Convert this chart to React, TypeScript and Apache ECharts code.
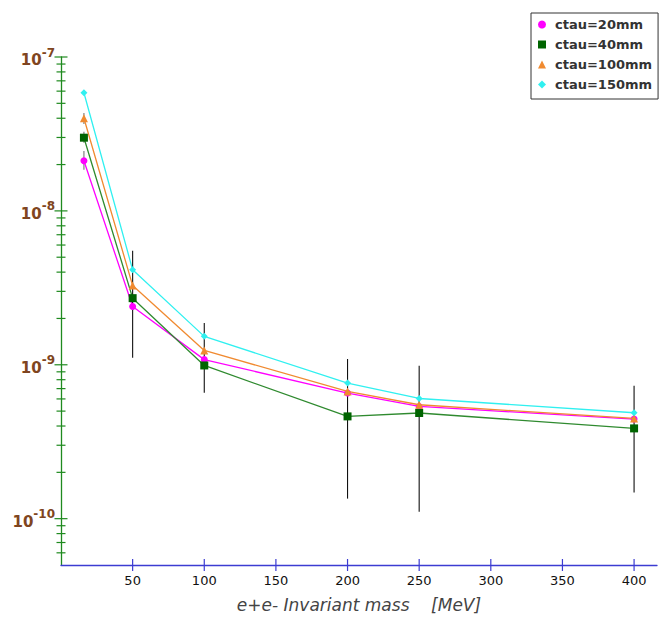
import React, { useEffect, useRef } from "react";
import * as echarts from "echarts";

// ---- data ----
const seriesNames = ["ctau=20mm", "ctau=40mm", "ctau=100mm", "ctau=150mm"];
const masses = [16, 50, 100, 200, 250, 400];
const ctau20 = [2.12e-8, 2.39e-9, 1.08e-9, 6.55e-10, 5.36e-10, 4.44e-10];
const ctau40 = [2.99e-8, 2.71e-9, 9.9e-10, 4.62e-10, 4.86e-10, 3.86e-10];
const ctau100 = [4.0e-8, 3.27e-9, 1.24e-9, 6.71e-10, 5.5e-10, 4.48e-10];
const ctau150 = [5.86e-8, 4.14e-9, 1.53e-9, 7.6e-10, 6.04e-10, 4.88e-10];

// black error bars (one per mass point)
const errMass = [50, 100, 200, 250, 400];
const errLow = [1.11e-9, 6.58e-10, 1.35e-10, 1.11e-10, 1.48e-10];
const errHigh = [5.5e-9, 1.87e-9, 1.09e-9, 9.86e-10, 7.31e-10];
// small grey error bars at the first mass point
const smallErrMass = [16, 16, 16];
const smallErrLow = [1.85e-8, 2.77e-8, 3.67e-8];
const smallErrHigh = [2.45e-8, 3.27e-8, 4.33e-8];

// axes
const X_MIN = 0;
const X_MAX = 416;
const Y_MIN = 5e-11;
const Y_MAX = 1e-7;
const xTicks = [50, 100, 150, 200, 250, 300, 350, 400];
const yDecades = [1e-10, 1e-9, 1e-8, 1e-7];
const yMinorDecades = [1e-11, 1e-10, 1e-9, 1e-8];
const yMinorMantissas = [2, 3, 4, 5, 6, 7, 8, 9];

const colors = ["#ff00ff", "#2f8a2f", "#f08a30", "#30f0f0"];
const markerColors = ["#ff00ff", "#006400", "#f08a30", "#30f0f0"];
const symbols = ["circle", "rect", "triangle", "diamond"];
const symbolSizes = [7, 8, 8, 7];
const seriesValues = [ctau20, ctau40, ctau100, ctau150];

export default function App() {
  const ref = useRef<HTMLDivElement>(null);

  useEffect(() => {
    if (!ref.current) return;
    const chart = echarts.init(ref.current, null, { renderer: "svg" });

    const yTickData: number[][] = [];
    yDecades.forEach((d) => yTickData.push([X_MIN, d, 6.5]));
    yMinorDecades.forEach((d) =>
      yMinorMantissas.forEach((m) => {
        const v = m * d;
        if (v > Y_MIN * 1.001 && v < Y_MAX) yTickData.push([X_MIN, v, 4.5]);
      })
    );
    const xTickData = xTicks.map((t) => [t, Y_MIN, 6]);

    const lineSeries = seriesNames.map((name, i) => ({
      name,
      type: "line",
      data: masses.map((m, j) => [m, seriesValues[i][j]]),
      symbol: symbols[i],
      symbolSize: symbolSizes[i],
      showSymbol: true,
      lineStyle: { color: colors[i], width: 1.3 },
      itemStyle: { color: markerColors[i] },
      z: 3 + i,
    }));

    const errSeries = (data: number[][], stroke: string, name: string) => ({
      name,
      type: "custom",
      data,
      encode: { x: 0, y: [1, 2] },
      z: 2,
      renderItem: (params: any, api: any) => {
        const x = api.value(0);
        const lo = api.coord([x, api.value(1)]);
        const hi = api.coord([x, api.value(2)]);
        return {
          type: "line",
          shape: { x1: lo[0], y1: lo[1], x2: hi[0], y2: hi[1] },
          style: { stroke, lineWidth: 1.1 },
        };
      },
    });

    const option: any = {
      animation: false,
      backgroundColor: "#ffffff",
      grid: { left: 61, right: 13, top: 57, bottom: 66, containLabel: false },
      legend: {
        orient: "vertical",
        left: 531,
        top: 13,
        padding: [4, 6, 7, 7],
        itemGap: 5,
        itemWidth: 8,
        itemHeight: 8,
        borderColor: "#333",
        borderWidth: 1,
        backgroundColor: "#fff",
        borderRadius: 0,
        data: seriesNames.map((n, i) => ({ name: n, icon: symbols[i] })),
        textStyle: {
          fontFamily: "DejaVu Sans",
          fontWeight: "bold",
          fontSize: 13,
          color: "#333",
          lineHeight: 15,
          padding: [0, 0, 0, 4],
        },
      },
      xAxis: {
        type: "value",
        min: X_MIN,
        max: X_MAX,
        interval: 50,
        name: "e+e- Invariant mass    [MeV]",
        nameLocation: "middle",
        nameGap: 31,
        nameTextStyle: {
          fontFamily: "DejaVu Sans",
          fontStyle: "italic",
          fontSize: 17,
          color: "#444",
        },
        axisLine: { show: true, lineStyle: { color: "#3c3cd2", width: 1.3 } },
        axisTick: { show: false },
        splitLine: { show: false },
        axisLabel: {
          margin: 9,
          fontFamily: "DejaVu Sans",
          fontSize: 13,
          color: "#111",
          formatter: (v: number) => (v > 0 && v % 50 === 0 ? String(v) : ""),
        },
      },
      yAxis: {
        type: "log",
        logBase: 10,
        min: Y_MIN,
        max: Y_MAX,
        axisLine: { show: true, lineStyle: { color: "#1f8a1f", width: 1.3 } },
        axisTick: { show: false },
        splitLine: { show: false },
        minorTick: { show: false },
        axisLabel: {
          margin: 6,
          formatter: (v: number) => {
            const e = Math.log10(v);
            const r = Math.round(e);
            if (Math.abs(e - r) > 1e-3) return "";
            return "{b|10}{s|" + r + "}";
          },
          rich: {
            b: {
              fontFamily: "DejaVu Sans",
              fontWeight: "bold",
              fontSize: 15,
              color: "#7f4520",
              padding: [6, 0, 0, 0],
            },
            s: {
              fontFamily: "DejaVu Sans",
              fontWeight: "bold",
              fontSize: 12,
              color: "#7f4520",
              padding: [0, 0, 9, 0],
            },
          },
        },
      },
      series: [
        errSeries(
          errMass.map((m, i) => [m, errLow[i], errHigh[i]]),
          "#111",
          "err"
        ),
        errSeries(
          smallErrMass.map((m, i) => [m, smallErrLow[i], smallErrHigh[i]]),
          "#777",
          "errSmall"
        ),
        ...lineSeries,
        {
          name: "yticks",
          type: "custom",
          data: yTickData,
          encode: { x: 0, y: 1 },
          z: 10,
          renderItem: (params: any, api: any) => {
            const p = api.coord([api.value(0), api.value(1)]);
            const len = api.value(2);
            return {
              type: "line",
              shape: { x1: p[0] - len, y1: p[1], x2: p[0] + len, y2: p[1] },
              style: { stroke: "#1f8a1f", lineWidth: 1.2 },
            };
          },
        },
        {
          name: "xticks",
          type: "custom",
          data: xTickData,
          encode: { x: 0, y: 1 },
          z: 10,
          renderItem: (params: any, api: any) => {
            const p = api.coord([api.value(0), api.value(1)]);
            const len = api.value(2);
            return {
              type: "line",
              shape: { x1: p[0], y1: p[1] - len, x2: p[0], y2: p[1] + len },
              style: { stroke: "#3c3cd2", lineWidth: 1.2 },
            };
          },
        },
      ],
    };

    chart.setOption(option);
    return () => chart.dispose();
  }, []);

  return (
    <div
      ref={ref}
      style={{ position: "fixed", left: 0, top: 0, width: 670, height: 631, background: "#fff" }}
    />
  );
}
